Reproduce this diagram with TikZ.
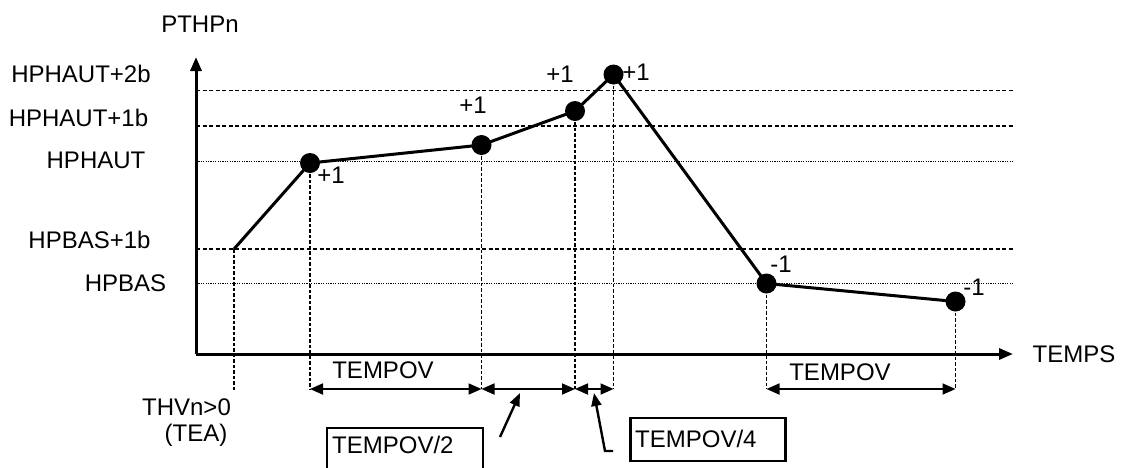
\documentclass[tikz,border=0pt]{standalone}
\usepackage{fontspec}
\setmainfont{Liberation Sans}
\usetikzlibrary{arrows.meta}
\begin{document}
\begin{tikzpicture}[x=1pt,y=-1pt,
  lbl/.style={font=\fontsize{24}{28}\selectfont, inner sep=0pt, anchor=center},
  dot/.style={circle, fill=black, inner sep=0pt, minimum size=20pt},
  curve/.style={line width=3pt, line join=round},
  axis/.style={line width=3pt, -{Triangle[length=14pt,width=11pt]}},
  lvldash/.style={line width=1.2pt, dash pattern=on 4pt off 2.5pt},
  lvldot/.style={line width=1pt, dash pattern=on 1.2pt off 1.2pt},
  vdash/.style={line width=1.2pt, dash pattern=on 3.5pt off 2pt},
  dim/.style={line width=1.8pt, {Triangle[length=13pt,width=11pt]}-{Triangle[length=13pt,width=11pt]}},
  lead/.style={line width=2.4pt, -{Triangle[length=13pt,width=10pt]}},
  boxln/.style={line width=2.2pt}]
\useasboundingbox (0,0) rectangle (1125,467);

% axes
\coordinate (O) at (196,354);
\coordinate (ytop) at (196,57);
\coordinate (xend) at (1013,354);
\draw[axis] (O) -- (ytop);
\draw[axis] (O) -- (xend);
\node[lbl] (ylab) at (200,24) {PTHPn};
\node[lbl] (xlab) at (1074,354) {TEMPS};

% level lines
\coordinate (l2a) at (196,90.5);  \coordinate (l2b) at (1013,90.5);
\coordinate (l1a) at (196,126);   \coordinate (l1b) at (1013,126);
\coordinate (lha) at (196,161.5); \coordinate (lhb) at (1013,161.5);
\coordinate (lba) at (196,249);   \coordinate (lbb) at (1013,249);
\coordinate (lpa) at (196,283.5); \coordinate (lpb) at (1013,283.5);
\draw[lvldash] (l2a) -- (l2b);
\draw[lvldash] (l1a) -- (l1b);
\draw[lvldot] (lha) -- (lhb);
\draw[lvldash] (lba) -- (lbb);
\draw[lvldot] (lpa) -- (lpb);

\node[lbl] (t2b) at (81,74) {HPHAUT+2b};
\node[lbl] (t1b) at (78.5,118) {HPHAUT+1b};
\node[lbl] (th) at (96,160) {HPHAUT};
\node[lbl] (tb1) at (89.5,240) {HPBAS+1b};
\node[lbl] (tb) at (125.5,283) {HPBAS};

% points
\coordinate (s) at (234,249);
\node[dot] (p1) at (310,163) {};
\node[dot] (p2) at (481.5,145) {};
\node[dot] (p3) at (575,111) {};
\node[dot] (p4) at (613.5,74.5) {};
\node[dot] (p5) at (766.5,283.5) {};
\node[dot] (p6) at (955.5,301.5) {};
\draw[curve] (s) -- (p1.center) -- (p2.center) -- (p3.center) -- (p4.center) -- (p5.center) -- (p6.center);

\node[lbl] (a1) at (331,175) {+1};
\node[lbl] (a2) at (473,105) {+1};
\node[lbl] (a3) at (560,74) {+1};
\node[lbl] (a4) at (636,72) {+1};
\node[lbl] (a5) at (781,264) {-1};
\node[lbl] (a6) at (974,287) {-1};

% vertical dashed drop lines
\coordinate (d0) at (234,390);
\coordinate (d1) at (310,389);
\coordinate (d2) at (481.5,389);
\coordinate (d3) at (575,389);
\coordinate (d4) at (613.5,389);
\coordinate (d5) at (766.5,389);
\coordinate (d6) at (955.5,389);
\draw[vdash] (s) -- (d0);
\draw[vdash] (p1.center) -- (d1);
\draw[vdash] (p2.center) -- (d2);
\draw[vdash] (p3.center) -- (d3);
\draw[vdash] (p4.center) -- (d4);
\draw[vdash] (p5.center) -- (d5);
\draw[vdash] (p6.center) -- (d6);

% dimension arrows
\draw[dim] (d1) -- (d2);
\draw[dim] (d2) -- (d3);
\draw[dim] (d3) -- (d4);
\draw[dim] (d5) -- (d6);
\node[lbl] (tv1) at (383,370) {TEMPOV};
\node[lbl] (tv2) at (840,372) {TEMPOV};

\node[lbl] (thv) at (186.5,407) {THVn>0};
\node[lbl] (tea) at (196,435) {(TEA)};

% TEMPOV/2 box
\node[lbl, anchor=west] (tb2) at (332,445) {TEMPOV/2};
\draw[boxln] (327,469) |- (483,428) -- (483,469);
\coordinate (q2s) at (500,437);
\coordinate (q2e) at (520,393);
\draw[lead] (q2s) -- (q2e);

% TEMPOV/4 box
\node[draw, line width=2.2pt, minimum width=155pt, minimum height=43pt, inner sep=0pt] (tb4) at (708,439.5) {};
\node[lbl, anchor=west] (tb4t) at (635,439) {TEMPOV/4};
\coordinate (q4s) at (613,451);
\coordinate (q4m) at (605,451);
\coordinate (q4e) at (594,393);
\draw[lead] (q4s) -- (q4m) -- (q4e);
\end{tikzpicture}
\end{document}
